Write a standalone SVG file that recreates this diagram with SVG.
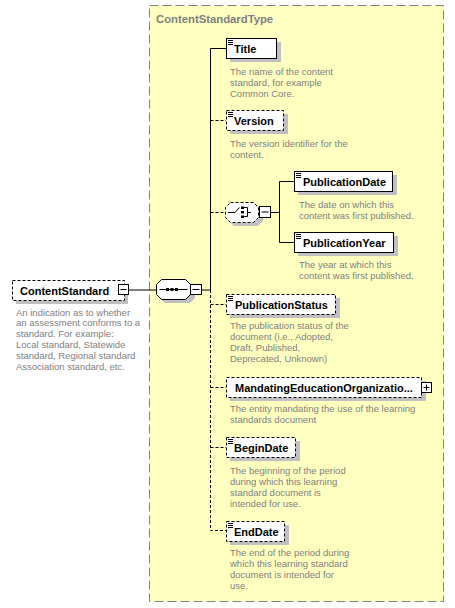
<svg xmlns="http://www.w3.org/2000/svg" width="455" height="608" viewBox="0 0 455 608">
<defs>
<style>
.name{font-family:"Liberation Sans",Arial,sans-serif;font-weight:bold;font-size:11px;fill:#000}
.desc{font-family:"Liberation Sans",Arial,sans-serif;font-size:9.5px;fill:#808080}
.ttl{font-family:"Liberation Sans",Arial,sans-serif;font-weight:bold;font-size:11.3px;fill:#808080}
.box{fill:#fff;stroke:#000;stroke-width:1}
.opt{stroke-dasharray:3,2}
.sh{fill:#c0c0c0}
.ln{stroke:#000;stroke-width:1;fill:none}
.dl{stroke:#000;stroke-width:1;fill:none;stroke-dasharray:3,2}
.ic{stroke:#000;stroke-width:1}
</style>
<g id="icon"><line class="ic" x1="228" y1="40.5" x2="233" y2="40.5"/><line class="ic" x1="228" y1="42.5" x2="233" y2="42.5"/><line class="ic" x1="228" y1="44.5" x2="233" y2="44.5"/></g>
</defs>
<rect x="149.5" y="5.5" width="294" height="596" fill="#FFFFC0" stroke="#808080" stroke-dasharray="9,4"/>
<text class="ttl" x="156" y="23">ContentStandardType</text>

<g id="connectors">
<line class="ln" x1="129" y1="290" x2="156" y2="290"/>
<line class="ln" x1="202" y1="290" x2="211" y2="290"/>
<line class="ln" x1="210.5" y1="48.5" x2="210.5" y2="290"/>
<polyline class="dl" points="210.5,290 210.5,530.5 226,530.5"/>
<line class="ln" x1="210.5" y1="48.5" x2="226" y2="48.5"/>
<line class="dl" x1="210.5" y1="120.5" x2="226" y2="120.5"/>
<line class="dl" x1="210.5" y1="212.5" x2="225" y2="212.5"/>
<line class="dl" x1="210.5" y1="304.5" x2="226" y2="304.5"/>
<line class="dl" x1="210.5" y1="387.5" x2="226" y2="387.5"/>
<line class="dl" x1="210.5" y1="447.5" x2="226" y2="447.5"/>
<line class="ln" x1="271" y1="212.5" x2="279" y2="212.5"/>
<polyline class="ln" points="294,181.5 279.5,181.5 279.5,242.5 294,242.5"/>
</g>

<g id="ContentStandard">
<rect class="sh" x="16" y="284" width="112" height="20"/>
<rect class="box opt" x="12.5" y="280.5" width="112" height="20"/>
<text class="name" x="20" y="294.5">ContentStandard</text>
<rect class="box" x="118.5" y="284.5" width="10" height="10"/>
<line class="ic" x1="120.5" y1="289.5" x2="126.5" y2="289.5"/>
<text class="desc" x="16" y="315.5">An indication as to whether</text>
<text class="desc" x="16" y="326.3">an assessment conforms to a</text>
<text class="desc" x="16" y="337.1">standard. For example:</text>
<text class="desc" x="16" y="347.9">Local standard, Statewide</text>
<text class="desc" x="16" y="358.7">standard, Regional standard</text>
<text class="desc" x="16" y="369.5">Association standard, etc.</text>
</g>

<g id="sequence">
<path class="sh" d="M165,283 H190 L195,288 V298 L190,303 H165 L160,298 V288 Z"/>
<path class="box" d="M161.5,279.5 H185.5 L190.5,284.5 V294.5 L185.5,299.5 H161.5 L156.5,294.5 V284.5 Z"/>
<line class="ic" x1="159.5" y1="289.5" x2="187.5" y2="289.5"/>
<rect x="166" y="288" width="3" height="3" fill="#000"/>
<rect x="170.5" y="288" width="3" height="3" fill="#000"/>
<rect x="175" y="288" width="3" height="3" fill="#000"/>
<rect class="box" x="190.5" y="284.5" width="11" height="10"/>
<line class="ic" x1="192.5" y1="289.5" x2="199.5" y2="289.5"/>
</g>

<g id="Title">
<rect class="sh" x="230" y="42" width="51" height="20"/>
<rect class="box" x="226.5" y="38.5" width="50" height="20"/>
<use href="#icon"/>
<text class="name" x="234" y="52.5">Title</text>
<text class="desc" x="230" y="75">The name of the content</text>
<text class="desc" x="230" y="86">standard, for example</text>
<text class="desc" x="230" y="97">Common Core.</text>
</g>

<g id="Version">
<rect class="sh" x="230" y="114" width="58" height="20"/>
<rect class="box opt" x="226.5" y="110.5" width="57" height="20"/>
<use href="#icon" y="72"/>
<text class="name" x="234" y="124.5">Version</text>
<text class="desc" x="230" y="146.5">The version identifier for the</text>
<text class="desc" x="230" y="157.5">content.</text>
</g>

<g id="choice">
<path class="sh" d="M234,206 H258 L263,211 V221 L258,226 H234 L229,221 V211 Z"/>
<path class="box opt" d="M230.5,202.5 H253.5 L258.5,207.5 V217.5 L253.5,222.5 H230.5 L225.5,217.5 V207.5 Z"/>
<polyline class="ln" points="228,212.5 235,212.5 239.5,207.5"/>
<rect x="241" y="206.5" width="3" height="2.5" fill="#000"/>
<rect x="241" y="211" width="3" height="2.5" fill="#000"/>
<rect x="241" y="215.5" width="3" height="2.5" fill="#000"/>
<polyline class="ln" points="244,207.5 247.5,207.5 247.5,216.5 244,216.5"/>
<line class="ln" x1="247.5" y1="212.5" x2="251" y2="212.5"/>
<rect class="box" x="259.5" y="206.5" width="11" height="11"/>
<line class="ic" x1="261.5" y1="212" x2="268.5" y2="212"/>
</g>

<g id="PublicationDate">
<rect class="sh" x="298" y="175" width="99" height="20"/>
<rect class="box" x="294.5" y="171.5" width="98" height="20"/>
<use href="#icon" x="68" y="133"/>
<text class="name" x="303" y="185.5">PublicationDate</text>
<text class="desc" x="299" y="207.5">The date on which this</text>
<text class="desc" x="299" y="218.5">content was first published.</text>
</g>

<g id="PublicationYear">
<rect class="sh" x="298" y="236" width="100" height="20"/>
<rect class="box" x="294.5" y="232.5" width="99" height="20"/>
<use href="#icon" x="68" y="194"/>
<text class="name" x="303" y="246.5">PublicationYear</text>
<text class="desc" x="299" y="268">The year at which this</text>
<text class="desc" x="299" y="279">content was first published.</text>
</g>

<g id="PublicationStatus">
<rect class="sh" x="230" y="298" width="110" height="20"/>
<rect class="box opt" x="226.5" y="294.5" width="109" height="20"/>
<use href="#icon" y="256"/>
<text class="name" x="235" y="308.5">PublicationStatus</text>
<text class="desc" x="230" y="329">The publication status of the</text>
<text class="desc" x="230" y="340">document (i.e., Adopted,</text>
<text class="desc" x="230" y="351">Draft, Published,</text>
<text class="desc" x="230" y="362">Deprecated, Unknown)</text>
</g>

<g id="MandatingEducationOrganization">
<rect class="sh" x="230" y="381" width="196" height="20"/>
<rect class="box opt" x="226.5" y="377.5" width="195" height="20"/>
<text class="name" x="235" y="391.5">MandatingEducationOrganizatio...</text>
<rect class="box" x="421.5" y="382.5" width="10" height="10"/>
<line class="ic" x1="423.5" y1="387.5" x2="429.5" y2="387.5"/>
<line class="ic" x1="426.5" y1="384.5" x2="426.5" y2="390.5"/>
<text class="desc" x="230" y="412">The entity mandating the use of the learning</text>
<text class="desc" x="230" y="423">standards document</text>
</g>

<g id="BeginDate">
<rect class="sh" x="230" y="441" width="70" height="20"/>
<rect class="box opt" x="226.5" y="437.5" width="69" height="20"/>
<use href="#icon" y="399"/>
<text class="name" x="234" y="451.5">BeginDate</text>
<text class="desc" x="230" y="473.5">The beginning of the period</text>
<text class="desc" x="230" y="484.5">during which this learning</text>
<text class="desc" x="230" y="495.5">standard document is</text>
<text class="desc" x="230" y="506.5">intended for use.</text>
</g>

<g id="EndDate">
<rect class="sh" x="230" y="525" width="59" height="20"/>
<rect class="box opt" x="226.5" y="521.5" width="58" height="20"/>
<use href="#icon" y="483"/>
<text class="name" x="234" y="535.5">EndDate</text>
<text class="desc" x="230" y="556">The end of the period during</text>
<text class="desc" x="230" y="567">which this learning standard</text>
<text class="desc" x="230" y="578">document is intended for</text>
<text class="desc" x="230" y="589">use.</text>
</g>
</svg>
